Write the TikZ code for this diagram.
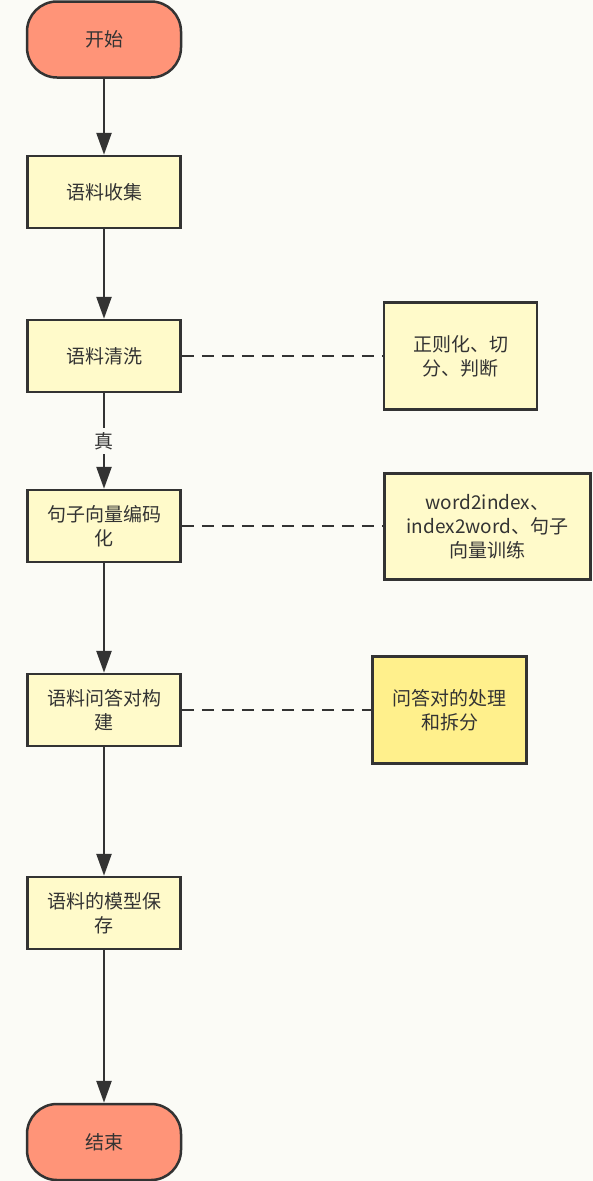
\documentclass[tikz,border=0pt]{standalone}
\usepackage{fontspec}
\setmainfont{Noto Sans CJK SC}
\usetikzlibrary{arrows.meta}
\definecolor{bgc}{RGB}{251,251,246}
\definecolor{linec}{RGB}{51,51,51}
\definecolor{boxfill}{RGB}{255,250,202}
\definecolor{boxfillb}{RGB}{255,240,140}
\definecolor{termfill}{RGB}{255,148,120}
\begin{document}
\begin{tikzpicture}[x=1pt,y=1pt,
  every node/.style={font=\fontsize{19}{24}\selectfont, text=linec, align=center, inner sep=0pt},
  term/.style={draw=linec, line width=2.5pt, fill=termfill, minimum width=154pt, minimum height=76pt, rounded corners=30pt},
  stepbox/.style={draw=linec, line width=2.5pt, fill=boxfill, minimum width=153pt, minimum height=72pt},
  notebox/.style={draw=linec, line width=2.5pt, fill=boxfill, minimum width=153pt, minimum height=107pt},
  flow/.style={draw=linec, line width=2.5pt, -{Triangle[length=22pt,width=15pt]}},
  link/.style={draw=linec, line width=2.5pt, dash pattern=on 12pt off 8pt}]
\fill[bgc] (0,0) rectangle (593,-1181);
\useasboundingbox (0,0) rectangle (593,-1181);
\node[term] (start) at (104,-39.5) {开始};
\node[stepbox] (collect) at (104,-192) {语料收集};
\node[stepbox] (clean) at (104,-356) {语料清洗};
\node[stepbox] (encode) at (104,-526) {句子向量编码\\化};
\node[stepbox] (qa) at (104,-710) {语料问答对构\\建};
\node[stepbox] (save) at (104,-913) {语料的模型保\\存};
\node[term] (end) at (104,-1142) {结束};
\node[notebox] (n1) at (460.5,-356) {正则化、切\\分、判断};
\node[notebox, minimum width=206pt, minimum height=106pt] (n2) at (487.5,-526.5) {word2index、\\index2word、句子\\向量训练};
\node[notebox, fill=boxfillb, minimum width=154pt] (n3) at (449.5,-710) {问答对的处理\\和拆分};
\draw[flow] (start) -- (collect);
\draw[flow] (collect) -- (clean);
\draw[flow] (clean) -- node[fill=bgc, inner sep=4pt] (lbl) {真} (encode);
\draw[flow] (encode) -- (qa);
\draw[flow] (qa) -- (save);
\draw[flow] (save) -- (end);
\draw[link] (clean) -- (n1);
\draw[link] (encode.east) -- (encode.east -| n2.west);
\draw[link] (qa) -- (n3);
\end{tikzpicture}
\end{document}
